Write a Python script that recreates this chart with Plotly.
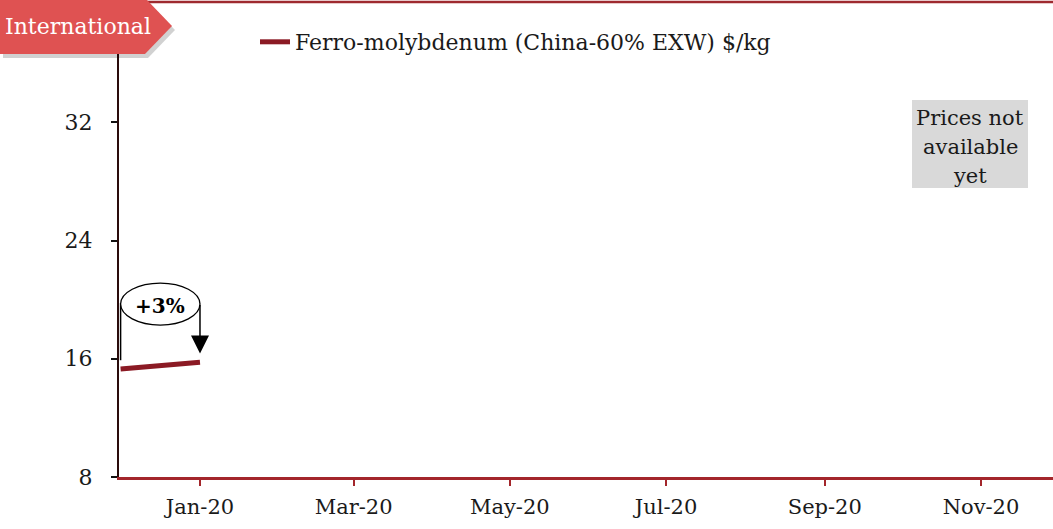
import plotly.graph_objects as go

# ---- data ----
dates = ["2019-12-01", "2020-01-01"]
ferro_moly = [15.3, 15.76]
series_name = "Ferro-molybdenum (China-60% EXW) $/kg"
x_tickvals = ["2020-01-01", "2020-03-01", "2020-05-01", "2020-07-01", "2020-09-01", "2020-11-01"]
x_ticktext = ["Jan-20", "Mar-20", "May-20", "Jul-20", "Sep-20", "Nov-20"]
y_tickvals = [8, 16, 24, 32]
change_label = "+3%"
section_label = "International"
note_lines = ["Prices not", "available", "yet"]

W, H = 1053, 529
ML, MR, MT, MB = 119, 0, 4, 52
PW, PH = W - ML - MR, H - MT - MB
FONT = "DejaVu Serif"
TXT = "#1a1a1a"
RED = "#8B1A24"


def px(x):
    return (x - ML) / PW


def py(y):
    return (H - MB - y) / PH


fig = go.Figure()
fig.add_trace(go.Scatter(
    x=dates, y=ferro_moly, mode="lines", name=series_name,
    line=dict(color=RED, width=5), showlegend=True,
))

shapes = []
annotations = []

# top frame line
shapes.append(dict(type="line", xref="paper", yref="paper",
                   x0=px(0), x1=px(W), y0=py(2), y1=py(2),
                   line=dict(color="#9E2A2F", width=2.5), layer="above"))


def pent(dx=0, dy=0):
    pts = [(0, 0), (147, 0), (172, 26), (145, 54), (0, 54)]
    d = ""
    for i, (a, b) in enumerate(pts):
        d += ("M" if i == 0 else "L") + f"{px(a + dx):.5f},{py(b + dy):.5f}"
    return d + "Z"


# label shadow + label
shapes.append(dict(type="path", xref="paper", yref="paper", path=pent(3, 4),
                   fillcolor="rgba(0,0,0,0.18)", line=dict(width=0), layer="above"))
shapes.append(dict(type="path", xref="paper", yref="paper", path=pent(),
                   fillcolor="#DF5252", line=dict(width=0), layer="above"))
annotations.append(dict(xref="paper", yref="paper", x=px(78), y=py(27),
                        text=section_label, showarrow=False,
                        font=dict(family=FONT, size=22, color="white"),
                        xanchor="center", yanchor="middle"))

# grey note box
shapes.append(dict(type="rect", xref="paper", yref="paper",
                   x0=px(912), x1=px(1028), y0=py(188), y1=py(100),
                   fillcolor="#D9D9D9", line=dict(width=0), layer="below"))
for i, t in enumerate(note_lines):
    annotations.append(dict(xref="paper", yref="paper", x=px(970), y=py(118 + 29 * i),
                            text=t, showarrow=False,
                            font=dict(family=FONT, size=21, color=TXT),
                            xanchor="center", yanchor="middle"))

# change bracket
shapes.append(dict(type="line", xref="x", yref="y",
                   x0="2019-12-01", x1="2019-12-01", y0=19.77, y1=15.9,
                   line=dict(color="black", width=1.5)))
shapes.append(dict(type="circle", xref="x", yref="y",
                   x0="2019-12-01", x1="2020-01-01", y0=18.28, y1=21.12,
                   fillcolor="white", line=dict(color="black", width=1.3)))
annotations.append(dict(xref="x", yref="y", x="2020-01-01", y=16.35,
                        ax=0, ay=-50, showarrow=True, arrowhead=2,
                        arrowsize=2.4, arrowwidth=1.5, arrowcolor="black", text=""))
annotations.append(dict(xref="x", yref="y", x="2019-12-16 12:00", y=19.6,
                        text=f"<b>{change_label}</b>", showarrow=False,
                        font=dict(family=FONT, size=20, color="black"),
                        xanchor="center", yanchor="middle"))

fig.update_layout(
    width=W, height=H,
    margin=dict(l=ML, r=MR, t=MT, b=MB),
    paper_bgcolor="white", plot_bgcolor="white",
    font=dict(family=FONT, size=20, color=TXT),
    shapes=shapes, annotations=annotations,
    legend=dict(x=px(255), y=py(42), xanchor="left", yanchor="middle",
                bgcolor="rgba(0,0,0,0)", font=dict(family=FONT, size=22, color=TXT),
                itemwidth=30),
    xaxis=dict(type="date", range=["2019-11-30 09:00", "2020-11-29 03:00"],
               tickvals=x_tickvals, ticktext=x_ticktext,
               showgrid=False, zeroline=False,
               showline=True, linecolor="#A3262B", linewidth=2.5,
               ticks="outside", ticklen=6, tickwidth=2, tickcolor="#A3262B",
               ticklabelstandoff=3,
               tickfont=dict(family=FONT, size=21, color=TXT)),
    yaxis=dict(range=[8, 40], tickvals=y_tickvals,
               showgrid=False, zeroline=False,
               showline=True, linecolor="#2A0C0C", linewidth=2,
               ticks="outside", ticklen=6, tickwidth=2, tickcolor="#111111",
               ticklabelstandoff=14,
               tickfont=dict(family=FONT, size=22, color=TXT)),
)

fig.write_html("out.html",
               config={"displayModeBar": False},
               post_script="document.body.style.margin='0';document.body.style.padding='0';")
